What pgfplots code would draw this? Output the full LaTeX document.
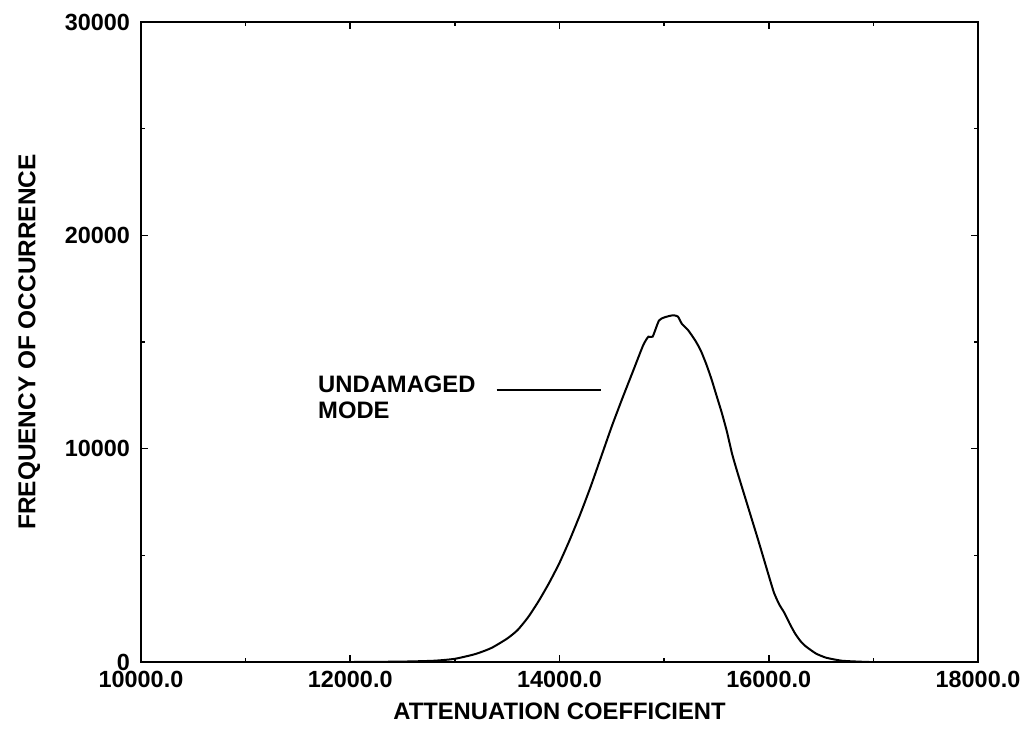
\documentclass[border=0pt]{standalone}
\usepackage{fontspec}
\setmainfont{Liberation Sans}
\usepackage{pgfplots}
\pgfplotsset{compat=1.18}
\begin{document}
\begin{tikzpicture}
\begin{axis}[
    width=418.5pt, height=320pt,
    scale only axis,
    xmin=10000, xmax=18000,
    ymin=0, ymax=30000,
    xtick={10000,12000,...,18000},
    ytick={0,10000,20000,30000},
    minor x tick num=1,
    minor y tick num=1,
    tick align=inside,
    major tick length=3.5pt,
    minor tick length=1.8pt,
    axis line style={line width=0.9pt},
    every tick/.style={line width=0.8pt, black},
    /pgf/number format/assume math mode=true,
    ticklabel style={font=\bfseries\fontsize{11.7}{13}\selectfont},
    xticklabel style={yshift=-1pt, /pgf/number format/.cd, fixed, fixed zerofill, precision=1, 1000 sep={}},
    yticklabel style={xshift=-2pt, /pgf/number format/.cd, fixed, 1000 sep={}},
    scaled ticks=false,
    xlabel={ATTENUATION COEFFICIENT},
    ylabel={FREQUENCY OF OCCURRENCE},
    xlabel style={font=\bfseries\fontsize{11.9}{13}\selectfont, yshift=-1pt},
    ylabel style={font=\bfseries\fontsize{12.2}{13}\selectfont, yshift=5.5pt},
]
% histogram envelope
\addplot[black, line width=1pt, smooth, tension=0.35] coordinates {
    (10000,0) (11000,0) (12000,0) (12500,20) (12800,60) (13000,150)
    (13200,380) (13350,660) (13500,1100) (13600,1500) (13700,2100)
    (13800,2850) (13900,3700) (14000,4650) (14100,5750) (14200,6950)
    (14300,8250) (14400,9650) (14500,11050) (14600,12350) (14700,13600)
    (14800,14850) (14850,15250) (14890,15250) (14950,16000) (15000,16150)
    (15080,16250) (15130,16200) (15170,15850) (15230,15550) (15300,15050)
    (15350,14600) (15400,14000) (15450,13300) (15500,12500) (15550,11700)
    (15600,10800) (15650,9750) (15700,8900) (15800,7300) (15900,5700)
    (16000,4050) (16050,3250) (16100,2700) (16150,2300) (16200,1800)
    (16250,1350) (16300,1000) (16350,750) (16450,400) (16550,200)
    (16700,60) (16900,10) (17000,0) (18000,0)
};
\node[anchor=north west, align=left, inner sep=0pt, font=\bfseries\fontsize{11.9}{13}\selectfont]
    at (axis cs:11690,13450) {UNDAMAGED\\MODE};
\draw[line width=0.8pt] (axis cs:13400,12750) -- (axis cs:14400,12750);
\end{axis}
\pgfresetboundingbox
\path[use as bounding box] ([shift={(-70.5pt,-34pt)}]current axis.south west)
    rectangle ([shift={(23.5pt,11pt)}]current axis.north east);
\end{tikzpicture}
\end{document}
